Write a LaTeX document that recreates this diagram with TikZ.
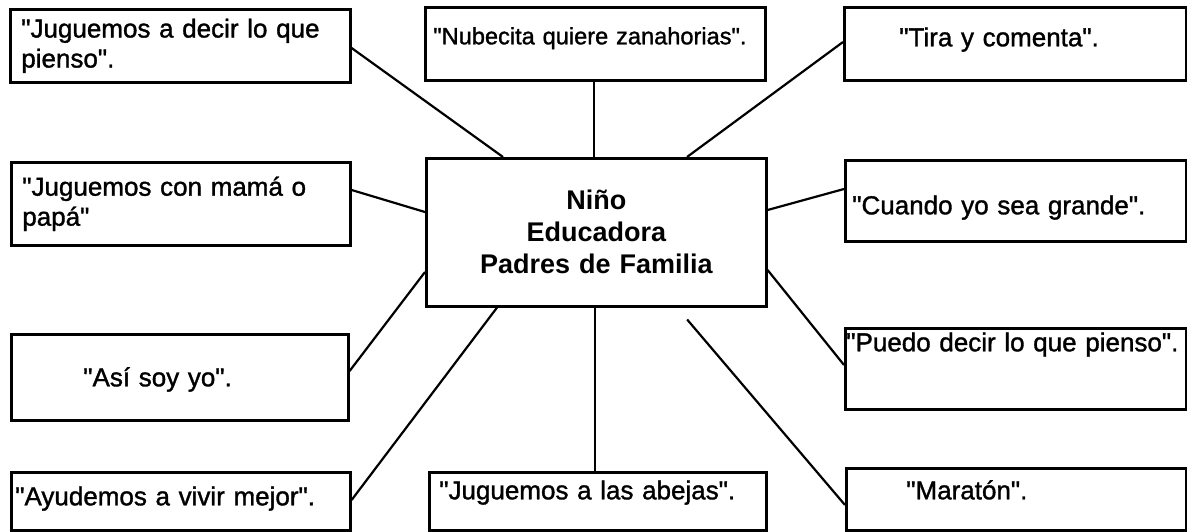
\documentclass[tikz,border=0pt]{standalone}
\usepackage{fontspec}
\setmainfont{Liberation Sans}
\newfontfamily\lado{Liberation Sans}[BoldFont=Liberation Sans, BoldFeatures={FakeBold=1.3}]
\newcommand\comi{\textquotedbl}

\tikzset{
	caja/.style={draw, line width=1.3pt, rectangle, anchor=north west, inner ysep=0pt, align=left, font=\lado\bfseries\fontsize{13}{15}\selectfont},
	linea/.style={line width=1.1pt},
}

\begin{document}
\begin{tikzpicture}[x=0.5pt, y=-0.5pt]
	\useasboundingbox (0, 0) rectangle (1187, 531);

	% centre
	\node[caja, align=center, inner xsep=0pt, text width=170pt, minimum height=74pt, font=\bfseries\fontsize{13.5}{16}\selectfont] (centro) at (425, 157) {Niño\\Educadora\\Padres de Familia\\[-3pt]};

	% left column
	\node[caja, inner xsep=5.5pt, text width=159pt, minimum height=36.5pt] (dec) at (9, 8) {\comi Juguemos a decir lo que\\pienso\comi.};
	\node[caja, inner xsep=5.5pt, text width=158.5pt, minimum height=41.5pt] (mama) at (10, 161) {\comi Juguemos con mamá o\\papá\comi};
	\node[caja, inner xsep=36pt, text width=96.5pt, text height=26pt, text depth=17pt] (asi) at (10, 333) {\mbox{\comi Así soy yo\comi.}};
	\node[caja, inner xsep=2pt, text width=165.5pt, text height=16.5pt, text depth=12.5pt] (ayud) at (10, 471) {\mbox{\comi Ayudemos a vivir mejor\comi.}};

	% middle column
	\node[caja, inner xsep=4pt, text width=162pt, text height=18.5pt, text depth=18pt, font=\lado\bfseries\fontsize{11.8}{14}\selectfont] (nube) at (424, 6) {\mbox{\comi Nubecita quiere zanahorias\comi.}};
	\node[caja, inner xsep=5pt, text width=158.5pt, text height=13.5pt, text depth=15.5pt] (abejas) at (428, 471) {\mbox{\comi Juguemos a las abejas\comi.}};

	% right column
	\node[caja, inner xsep=27.5pt, text width=116pt, text height=19.5pt, text depth=17pt] (tira) at (843, 6) {\mbox{\comi Tira y comenta\comi.}};
	\node[caja, inner xsep=3.5pt, text width=163.5pt, text height=27pt, text depth=13.5pt] (cuando) at (844, 159) {\mbox{\comi Cuando yo sea grande\comi.}};
	\node[caja, inner xsep=0.5pt, text width=169.5pt, text height=11.5pt, text depth=29pt] (puedo) at (844, 327) {\mbox{\comi Puedo decir lo que pienso\comi.}};
	\node[caja, inner xsep=30pt, text width=110pt, text height=15.5pt, text depth=15.5pt] (mara) at (845, 467) {\mbox{\comi Maratón\comi.}};

	\draw[linea] (dec.east |- 0, 48) -- (centro.north -| 503, 0);
	\draw[linea] (nube.south -| 594, 0) -- (centro.north -| 594, 0);
	\draw[linea] (tira.west |- 0, 42) -- (centro.north -| 687, 0);
	\draw[linea] (mama.east |- 0, 190) -- (centro.west |- 0, 212);
	\draw[linea] (asi.east |- 0, 371) -- (centro.west |- 0, 272);
	\draw[linea] (centro.east |- 0, 210) -- (cuando.west |- 0, 189);
	\draw[linea] (centro.east |- 0, 270) -- (puedo.west |- 0, 365);
	\draw[linea] (ayud.east |- 0, 500) -- (centro.south -| 497, 0);
	\draw[linea] (centro.south -| 595, 0) -- (abejas.north -| 595, 0);
	\draw[linea, shorten <=7.8pt] (centro.south -| 677, 0) -- (mara.west |- 0, 505);
\end{tikzpicture}
\end{document}
